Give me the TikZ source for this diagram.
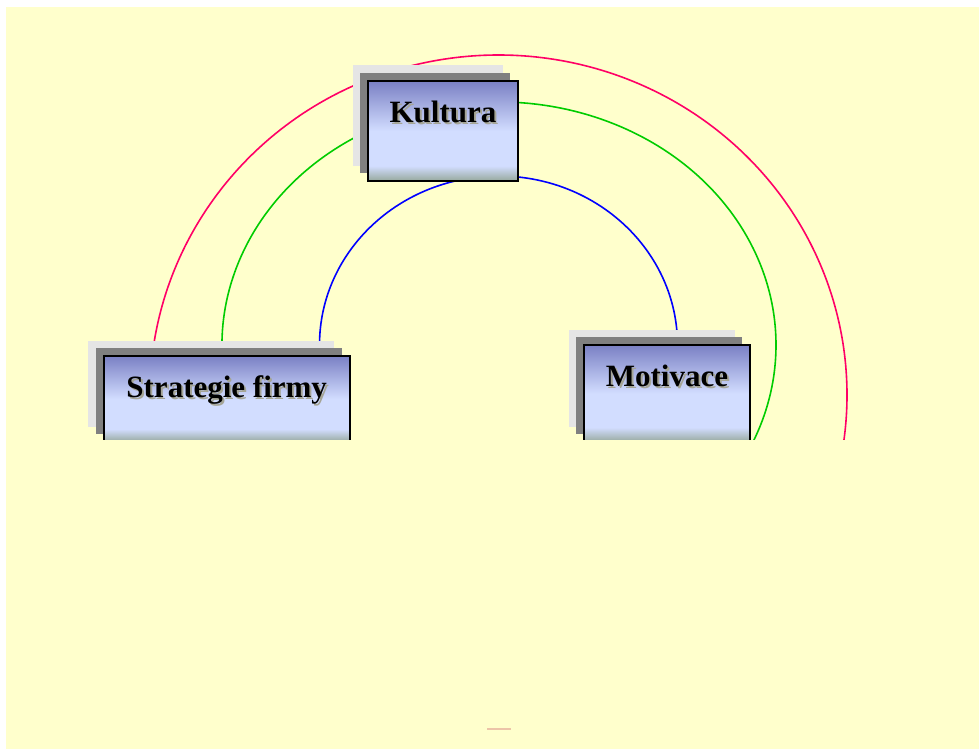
\documentclass[tikz,border=0pt]{standalone}
\usepackage{fontspec}
\setmainfont{Liberation Serif}
\usetikzlibrary{calc,shadows}
\definecolor{paper}{RGB}{255,255,204}
\definecolor{stackfar}{RGB}{229,229,229}
\definecolor{stacknear}{RGB}{128,128,128}
\definecolor{boxtop}{RGB}{122,128,196}
\definecolor{boxmid}{RGB}{210,221,255}
\definecolor{boxfoot}{RGB}{150,168,156}
\definecolor{arcred}{RGB}{255,0,102}
\definecolor{arcgreen}{RGB}{0,204,0}
\definecolor{arcblue}{RGB}{0,0,255}
\definecolor{textshade}{RGB}{165,165,150}
\definecolor{tickmark}{RGB}{236,196,168}
% panel fill: grey-green foot, pale blue body, violet top
\pgfdeclareverticalshading{panelshade}{100bp}{color(0bp)=(boxfoot); color(25bp)=(boxfoot); color(32.5bp)=(boxmid); color(50bp)=(boxmid); color(75bp)=(boxtop); color(100bp)=(boxtop)}
% bold caption with a soft drop shadow
\newcommand\shadowed[1]{\makebox[0pt][l]{\hspace{2pt}\raisebox{-2pt}{\textcolor{textshade}{#1}}}#1}
\tikzset{
  panel/.style={rectangle, draw=black, line width=2pt, shading=panelshade,
    inner sep=0pt, text height=41pt, anchor=north west,
    font=\fontsize{31}{36}\selectfont\bfseries,
    general shadow={fill=stackfar, shadow xshift=-15.5pt, shadow yshift=15.5pt},
    general shadow={fill=stacknear, shadow xshift=-8pt, shadow yshift=8pt}},
  ring/.style={line width=1.6pt},
}
\begin{document}
\begin{tikzpicture}[x=1pt,y=-1pt]
  \useasboundingbox (0,0) rectangle (979,749);
  \fill[white] (0,0) rectangle (979,749);
  \fill[paper] (6,7) rectangle (979,749);

  % centres of the three half ellipses
  \coordinate (cb) at (498.5,345);
  \coordinate (cg) at (499,345);
  \coordinate (cr) at (498.5,395);

  \begin{scope}
    \clip (0,0) rectangle (979,439);
    \draw[ring, arcred] ($(cr)+(190:348.5pt and 340pt)$)
      arc[start angle=190, end angle=-10, x radius=348.5pt, y radius=340pt];
    \draw[ring, arcgreen] ($(cg)+(205:277pt and 243pt)$)
      arc[start angle=205, end angle=-25, x radius=277pt, y radius=243pt];
    \draw[ring, arcblue] ($(cb)+(180:179pt and 169pt)$)
      arc[start angle=180, end angle=0, x radius=179pt, y radius=169pt];

    \node[panel, minimum width=246pt, text depth=45pt] (s) at (102.7,355) {\shadowed{Strategie firmy}};
    \node[panel, minimum width=166pt, text depth=56pt] (m) at (583,344) {\shadowed{Motivace}};
  \end{scope}

  \node[panel, minimum width=150pt, text depth=59pt] (k) at (367,80) {\shadowed{Kultura}};

  \draw[tickmark, line width=1.2pt] (487,729) -- (511,729);
\end{tikzpicture}
\end{document}
